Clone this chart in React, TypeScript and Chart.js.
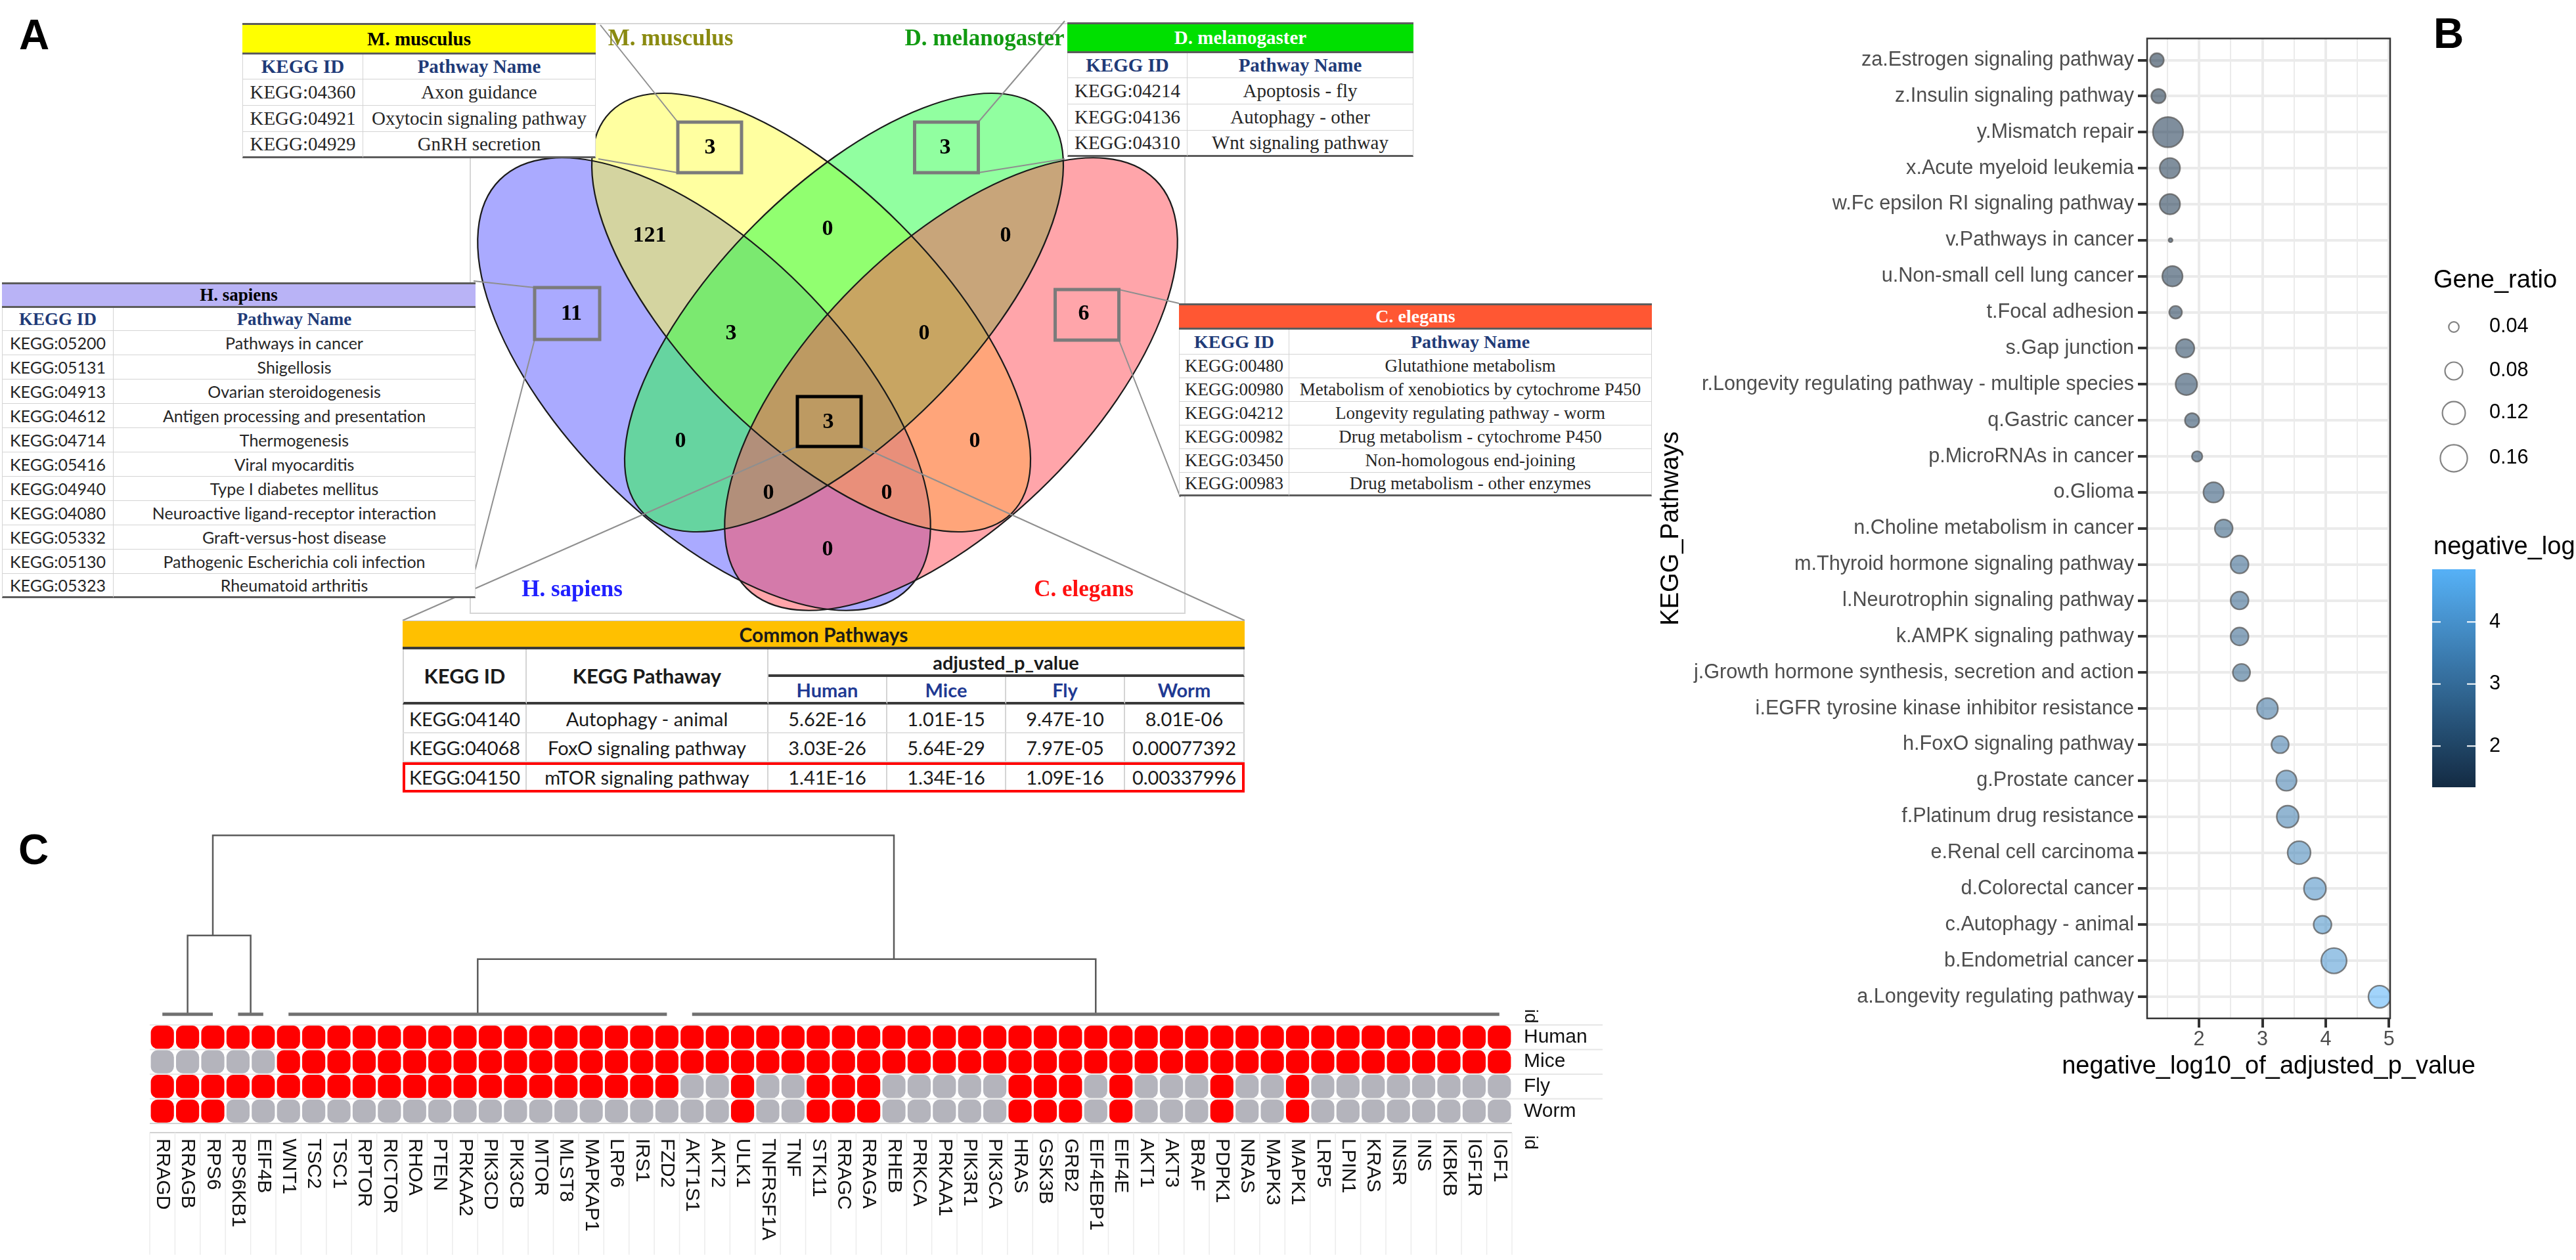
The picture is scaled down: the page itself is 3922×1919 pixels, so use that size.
import React, { useEffect, useRef } from 'react';
import { Chart, registerables } from 'chart.js';

Chart.register(...registerables);

const SERIF = '"Liberation Serif", "Times New Roman", serif';
const SANS = '"Liberation Sans", Arial, Helvetica, sans-serif';
const CALI = 'Lato, "Open Sans", sans-serif';

// ---------------- Panel B data ----------------
const PATHWAYS = [
  'za.Estrogen signaling pathway',
  'z.Insulin signaling pathway',
  'y.Mismatch repair',
  'x.Acute myeloid leukemia',
  'w.Fc epsilon RI signaling pathway',
  'v.Pathways in cancer',
  'u.Non-small cell lung cancer',
  't.Focal adhesion',
  's.Gap junction',
  'r.Longevity regulating pathway - multiple species',
  'q.Gastric cancer',
  'p.MicroRNAs in cancer',
  'o.Glioma',
  'n.Choline metabolism in cancer',
  'm.Thyroid hormone signaling pathway',
  'l.Neurotrophin signaling pathway',
  'k.AMPK signaling pathway',
  'j.Growth hormone synthesis, secretion and action',
  'i.EGFR tyrosine kinase inhibitor resistance',
  'h.FoxO signaling pathway',
  'g.Prostate cancer',
  'f.Platinum drug resistance',
  'e.Renal cell carcinoma',
  'd.Colorectal cancer',
  'c.Autophagy - animal',
  'b.Endometrial cancer',
  'a.Longevity regulating pathway',
];
const NEG_LOG10_P = [1.335, 1.36, 1.51, 1.54, 1.54, 1.55, 1.58, 1.63, 1.78, 1.8, 1.89, 1.97, 2.23, 2.39, 2.64, 2.64, 2.64, 2.67, 3.08, 3.28, 3.38, 3.4, 3.58, 3.83, 3.95, 4.13, 4.85];
const GENE_RATIO = [0.056, 0.059, 0.195, 0.099, 0.099, 0.023, 0.099, 0.051, 0.085, 0.109, 0.059, 0.041, 0.099, 0.081, 0.081, 0.081, 0.081, 0.077, 0.104, 0.077, 0.099, 0.112, 0.121, 0.113, 0.081, 0.144, 0.115];
const X_BREAKS = [1.5, 2, 2.5, 3, 3.5, 4, 4.5, 5];
const SIZE_BREAKS = [0.04, 0.08, 0.12, 0.16];
const COLOUR_BREAKS = [2, 3, 4];

// ---------------- Panel C data ----------------
const GENES = [
  'RRAGD', 'RRAGB', 'RPS6', 'RPS6KB1', 'EIF4B', 'WNT1', 'TSC2', 'TSC1', 'RPTOR', 'RICTOR',
  'RHOA', 'PTEN', 'PRKAA2', 'PIK3CD', 'PIK3CB', 'MTOR', 'MLST8', 'MAPKAP1', 'LRP6', 'IRS1',
  'FZD2', 'AKT1S1', 'AKT2', 'ULK1', 'TNFRSF1A', 'TNF', 'STK11', 'RRAGC', 'RRAGA', 'RHEB',
  'PRKCA', 'PRKAA1', 'PIK3R1', 'PIK3CA', 'HRAS', 'GSK3B', 'GRB2', 'EIF4EBP1', 'EIF4E', 'AKT1',
  'AKT3', 'BRAF', 'PDPK1', 'NRAS', 'MAPK3', 'MAPK1', 'LRP5', 'LPIN1', 'KRAS', 'INSR',
  'INS', 'IKBKB', 'IGF1R', 'IGF1',
];
const SPECIES = ['Human', 'Mice', 'Fly', 'Worm'];
const HUMAN = [1, 1, 1, 1, 1, 1, 1, 1, 1, 1, 1, 1, 1, 1, 1, 1, 1, 1, 1, 1, 1, 1, 1, 1, 1, 1, 1, 1, 1, 1, 1, 1, 1, 1, 1, 1, 1, 1, 1, 1, 1, 1, 1, 1, 1, 1, 1, 1, 1, 1, 1, 1, 1, 1];
const MICE = [0, 0, 0, 0, 0, 1, 1, 1, 1, 1, 1, 1, 1, 1, 1, 1, 1, 1, 1, 1, 1, 1, 1, 1, 1, 1, 1, 1, 1, 1, 1, 1, 1, 1, 1, 1, 1, 1, 1, 1, 1, 1, 1, 1, 1, 1, 1, 1, 1, 1, 1, 1, 1, 1];
const FLY = [1, 1, 1, 1, 1, 1, 1, 1, 1, 1, 1, 1, 1, 1, 1, 1, 1, 1, 1, 1, 1, 0, 0, 1, 0, 0, 1, 1, 1, 0, 0, 0, 0, 0, 1, 1, 1, 0, 1, 0, 0, 0, 1, 0, 0, 1, 0, 0, 0, 0, 0, 0, 0, 0];
const WORM = [1, 1, 1, 0, 0, 0, 0, 0, 0, 0, 0, 0, 0, 0, 0, 0, 0, 0, 0, 0, 0, 0, 0, 1, 0, 0, 1, 1, 1, 0, 0, 0, 0, 0, 1, 1, 1, 0, 1, 0, 0, 0, 1, 0, 0, 1, 0, 0, 0, 0, 0, 0, 0, 0];
const PRESENCE = [HUMAN, MICE, FLY, WORM];
// dendrogram (x in gene-index units, height in row units)
const LEAF_GROUPS = [[0, 2], [3, 4], [5, 20], [21, 53]];
const LEAF_HEIGHT = 4.43;
// [left x, right x, merge height, left child height, right child height]
const LINKS = [
  [1, 3.5, 7.63, 4.43, 4.43],
  [12.5, 37, 6.67, 4.43, 4.43],
  [2.0, 29, 11.69, 7.63, 6.67],
];

// ---------------- Panel A data ----------------
const VENN_SETS = ['H. sapiens', 'M. musculus', 'D. melanogaster', 'C. elegans'];
const VENN_REGIONS = ['M', 'D', 'H', 'C', 'HM', 'MD', 'DC', 'HMD', 'MDC', 'HD', 'MC', 'HMDC', 'HDC', 'HMC', 'HC'];
const VENN_COUNTS = [3, 3, 11, 6, 121, 0, 0, 3, 0, 0, 0, 3, 0, 0, 0];

const MUS_ROWS = [
  ['KEGG:04360', 'Axon guidance'],
  ['KEGG:04921', 'Oxytocin signaling pathway'],
  ['KEGG:04929', 'GnRH secretion'],
];
const DME_ROWS = [
  ['KEGG:04214', 'Apoptosis - fly'],
  ['KEGG:04136', 'Autophagy - other'],
  ['KEGG:04310', 'Wnt signaling pathway'],
];
const HSA_ROWS = [
  ['KEGG:05200', 'Pathways in cancer'],
  ['KEGG:05131', 'Shigellosis'],
  ['KEGG:04913', 'Ovarian steroidogenesis'],
  ['KEGG:04612', 'Antigen processing and presentation'],
  ['KEGG:04714', 'Thermogenesis'],
  ['KEGG:05416', 'Viral myocarditis'],
  ['KEGG:04940', 'Type I diabetes mellitus'],
  ['KEGG:04080', 'Neuroactive ligand-receptor interaction'],
  ['KEGG:05332', 'Graft-versus-host disease'],
  ['KEGG:05130', 'Pathogenic Escherichia coli infection'],
  ['KEGG:05323', 'Rheumatoid arthritis'],
];
const CEL_ROWS = [
  ['KEGG:00480', 'Glutathione metabolism'],
  ['KEGG:00980', 'Metabolism of xenobiotics by cytochrome P450'],
  ['KEGG:04212', 'Longevity regulating pathway - worm'],
  ['KEGG:00982', 'Drug metabolism - cytochrome P450'],
  ['KEGG:03450', 'Non-homologous end-joining'],
  ['KEGG:00983', 'Drug metabolism - other enzymes'],
];
const COMMON_SPECIES = ['Human', 'Mice', 'Fly', 'Worm'];
const COMMON_ROWS = [
  ['KEGG:04140', 'Autophagy - animal', '5.62E-16', '1.01E-15', '9.47E-10', '8.01E-06'],
  ['KEGG:04068', 'FoxO signaling pathway', '3.03E-26', '5.64E-29', '7.97E-05', '0.00077392'],
  ['KEGG:04150', 'mTOR signaling pathway', '1.41E-16', '1.34E-16', '1.09E-16', '0.00337996'],
];

// ---------------- layout (Venn drawing space: 10 px per unit) ----------------
const VENN_LAYOUT = {
  frame: [11.6, 3.6, 120.4, 93.4],
  ellipses: [
    { cx: 47.2, cy: 58.5, a: 44.0, b: 21.0, angle: 45, fill: 'rgba(85,85,255,0.5)' },
    { cx: 63.5, cy: 47.6, a: 43.2, b: 19.1, angle: 45, fill: 'rgba(255,255,65,0.5)' },
    { cx: 68.5, cy: 47.6, a: 43.2, b: 19.1, angle: -45, fill: 'rgba(35,255,65,0.5)' },
    { cx: 84.8, cy: 58.5, a: 44.0, b: 21.0, angle: -45, fill: 'rgba(255,75,85,0.5)' },
  ],
  regionPos: [
    [48.1, 22.5], [83.9, 22.5], [27.0, 47.8], [105.0, 47.8], [38.9, 35.9], [66.0, 34.9], [93.1, 35.9],
    [51.3, 50.8], [80.7, 50.8], [43.6, 67.2], [88.4, 67.2], [66.1, 64.3], [57.0, 75.1], [75.0, 75.1], [66.0, 83.7],
  ],
  boxes: [
    [48.05, 22.45, 9.7, 7.7, '#7b7b7b'],
    [84.1, 22.45, 9.7, 7.7, '#7b7b7b'],
    [26.35, 47.75, 9.9, 7.9, '#7b7b7b'],
    [105.5, 47.95, 9.7, 7.7, '#7b7b7b'],
    [66.25, 64.2, 9.7, 7.6, '#000000'],
  ],
  setLabels: [[27.1, 89.9, '#2020ff'], [42.1, 6.0, '#8a8a10'], [89.9, 6.0, '#129a12'], [105.0, 89.9, '#ff1010']],
  connectors: [
    [43.2, 18.6, 31.4, 3.8], [43.2, 26.3, 31.1, 24.2],
    [88.95, 18.6, 102.1, 3.2], [88.95, 26.3, 102.1, 24.2],
    [21.4, 43.8, 12.1, 42.8], [21.4, 51.7, 11.4, 90.4],
    [110.35, 44.1, 119.5, 46.2], [110.35, 51.8, 119.7, 75.7],
    [61.4, 68.0, 1.3, 94.5], [71.1, 68.0, 129.5, 94.5],
  ],
};

// ---------------- helpers ----------------
const NEG_MIN = Math.min(...NEG_LOG10_P);
const NEG_MAX = Math.max(...NEG_LOG10_P);
const LOW_RGB = [19, 43, 67];
const HIGH_RGB = [86, 177, 247];

function colourFor(v: number, alpha: number) {
  const t = Math.min(1, Math.max(0, (v - NEG_MIN) / (NEG_MAX - NEG_MIN)));
  const c = LOW_RGB.map((l, k) => Math.round(l + (HIGH_RGB[k] - l) * t));
  return `rgba(${c[0]},${c[1]},${c[2]},${alpha})`;
}
function sizeFor(g: number) {
  return Math.sqrt(Math.max(4, 60.8 + (g - 0.04) * 3025));
}

// ---------------- Venn chart ----------------
const vennPlugin = {
  id: 'vennDraw',
  beforeDatasetsDraw(chart: any) {
    const { ctx, scales } = chart;
    const X = (v: number) => scales.x.getPixelForValue(v);
    const Y = (v: number) => scales.y.getPixelForValue(v);
    const sx = Math.abs(X(1) - X(0));
    const sy = Math.abs(Y(1) - Y(0));
    ctx.save();
    const f = VENN_LAYOUT.frame;
    ctx.strokeStyle = '#d6d6d6';
    ctx.lineWidth = 2;
    ctx.strokeRect(X(f[0]), Y(f[1]), (f[2] - f[0]) * sx, (f[3] - f[1]) * sy);
    VENN_LAYOUT.ellipses.forEach((e) => {
      ctx.beginPath();
      ctx.ellipse(X(e.cx), Y(e.cy), e.a * sx, e.b * sy, (e.angle * Math.PI) / 180, 0, Math.PI * 2);
      ctx.fillStyle = e.fill;
      ctx.fill();
    });
    ctx.strokeStyle = '#1a1a1a';
    ctx.lineWidth = 2.2;
    VENN_LAYOUT.ellipses.forEach((e) => {
      ctx.beginPath();
      ctx.ellipse(X(e.cx), Y(e.cy), e.a * sx, e.b * sy, (e.angle * Math.PI) / 180, 0, Math.PI * 2);
      ctx.stroke();
    });
    ctx.restore();
  },
  afterDatasetsDraw(chart: any) {
    const { ctx, scales } = chart;
    const X = (v: number) => scales.x.getPixelForValue(v);
    const Y = (v: number) => scales.y.getPixelForValue(v);
    const sx = Math.abs(X(1) - X(0));
    const sy = Math.abs(Y(1) - Y(0));
    ctx.save();
    VENN_LAYOUT.boxes.forEach(([cx, cy, w, h, col]: any) => {
      ctx.strokeStyle = col;
      ctx.lineWidth = 5;
      ctx.strokeRect(X(cx - w / 2), Y(cy - h / 2), w * sx, h * sy);
    });
    ctx.fillStyle = '#000';
    ctx.textAlign = 'center';
    ctx.textBaseline = 'middle';
    ctx.font = `bold 34px ${SERIF}`;
    VENN_COUNTS.forEach((n, i) => {
      const [px, py] = VENN_LAYOUT.regionPos[i];
      ctx.fillText(String(n), X(px), Y(py));
    });
    ctx.font = `bold 35px ${SERIF}`;
    VENN_SETS.forEach((s, i) => {
      const [px, py, col] = VENN_LAYOUT.setLabels[i] as any;
      ctx.fillStyle = col;
      ctx.fillText(s, X(px), Y(py));
    });
    ctx.restore();
  },
};

function vennConfig(): any {
  return {
    type: 'scatter',
    data: {
      datasets: VENN_LAYOUT.connectors.map((c) => ({
        data: [{ x: c[0], y: c[1] }, { x: c[2], y: c[3] }],
        showLine: true,
        borderColor: '#8f8f8f',
        borderWidth: 2,
        pointRadius: 0,
        clip: false,
      })),
    },
    options: {
      responsive: false,
      animation: false,
      devicePixelRatio: 1,
      events: [],
      layout: { padding: 0 },
      plugins: { legend: { display: false }, tooltip: { enabled: false } },
      scales: {
        x: { type: 'linear', min: 0, max: 135, display: false },
        y: { type: 'linear', min: 0, max: 96, reverse: true, display: false },
      },
    },
    plugins: [vennPlugin],
  };
}

// ---------------- Bubble chart (panel B) ----------------
const LEGEND_KEY_Y = [498, 565, 629, 698];
const bubblePlugin = {
  id: 'bubbleDecor',
  afterDraw(chart: any) {
    const { ctx, chartArea: a } = chart;
    ctx.save();
    ctx.strokeStyle = '#333333';
    ctx.lineWidth = 2.5;
    ctx.strokeRect(a.left, a.top, a.right - a.left, a.bottom - a.top);

    // x axis title (wider than the panel, so drawn without width limit)
    ctx.fillStyle = '#000';
    ctx.textAlign = 'center';
    ctx.textBaseline = 'middle';
    ctx.font = `38px ${SANS}`;
    ctx.fillText('negative_log10_of_adjusted_p_value', (a.left + a.right) / 2, 1625);

    // size legend
    ctx.textAlign = 'left';
    ctx.fillText('Gene_ratio', 1205, 428);
    SIZE_BREAKS.forEach((b, i) => {
      const cy = LEGEND_KEY_Y[i];
      ctx.beginPath();
      ctx.arc(1236, cy, sizeFor(b), 0, Math.PI * 2);
      ctx.strokeStyle = 'rgba(90,90,90,0.75)';
      ctx.lineWidth = 2.2;
      ctx.stroke();
      ctx.font = `30.6px ${SANS}`;
      ctx.fillStyle = '#000';
      ctx.fillText(b.toFixed(2), 1290, cy);
    });

    // colour bar
    ctx.font = `38px ${SANS}`;
    ctx.fillText('negative_log', 1205, 834);
    const top = 867;
    const bot = 1199;
    const g = ctx.createLinearGradient(0, top, 0, bot);
    for (let k = 0; k <= 10; k++) {
      const v = NEG_MAX - ((NEG_MAX - NEG_MIN) * k) / 10;
      g.addColorStop(k / 10, colourFor(v, 1));
    }
    ctx.fillStyle = g;
    ctx.fillRect(1203, top, 66, bot - top);
    COLOUR_BREAKS.forEach((v) => {
      const y = bot - ((v - NEG_MIN) / (NEG_MAX - NEG_MIN)) * (bot - top);
      ctx.strokeStyle = '#ffffff';
      ctx.lineWidth = 2;
      ctx.beginPath();
      ctx.moveTo(1203, y);
      ctx.lineTo(1216, y);
      ctx.moveTo(1256, y);
      ctx.lineTo(1269, y);
      ctx.stroke();
      ctx.fillStyle = '#000';
      ctx.font = `30.6px ${SANS}`;
      ctx.fillText(String(v), 1290, y);
    });
    ctx.restore();
  },
};

function bubbleConfig(): any {
  return {
    type: 'bubble',
    data: {
      datasets: [
        {
          data: NEG_LOG10_P.map((x, i) => ({ x, y: i, r: sizeFor(GENE_RATIO[i]) })),
          backgroundColor: NEG_LOG10_P.map((v) => colourFor(v, 0.55)),
          borderColor: 'rgba(90,90,90,0.75)',
          borderWidth: 2.4,
        },
      ],
    },
    options: {
      responsive: false,
      animation: false,
      devicePixelRatio: 1,
      events: [],
      layout: { padding: { left: 0, right: 283, top: 58.6, bottom: 0 } },
      plugins: { legend: { display: false }, tooltip: { enabled: false } },
      scales: {
        x: {
          type: 'linear',
          min: 1.18,
          max: 5.017,
          afterBuildTicks: (s: any) => {
            s.ticks = X_BREAKS.map((value) => ({ value }));
          },
          afterFit: (s: any) => {
            s.height = 149;
          },
          ticks: {
            autoSkip: false,
            maxRotation: 0,
            padding: 0,
            color: '#4d4d4d',
            font: { family: SANS, size: 30.6 },
            callback: (v: number) => (Number.isInteger(v) ? String(v) : ''),
          },
          grid: {
            color: '#ebebeb',
            lineWidth: (c: any) => (c.tick && Number.isInteger(c.tick.value) ? 4 : 2),
            tickLength: 14,
            tickWidth: 4,
            tickColor: (c: any) => (c.tick && Number.isInteger(c.tick.value) ? '#333333' : 'rgba(0,0,0,0)'),
          },
          border: { display: false },
          title: { display: false },
        },
        y: {
          type: 'linear',
          reverse: true,
          min: -0.6,
          max: 26.6,
          afterBuildTicks: (s: any) => {
            s.ticks = PATHWAYS.map((_, i) => ({ value: i }));
          },
          afterFit: (s: any) => {
            s.width = 769;
          },
          ticks: {
            autoSkip: false,
            padding: 6,
            color: '#4d4d4d',
            font: { family: SANS, size: 30.6 },
            callback: (v: number) => PATHWAYS[v],
          },
          grid: { color: '#ebebeb', lineWidth: 4, tickLength: 14, tickWidth: 4, tickColor: '#333333' },
          border: { display: false },
          title: {
            display: true,
            text: 'KEGG_Pathways',
            color: '#000',
            font: { family: SANS, size: 38 },
            padding: { top: 22, bottom: 0 },
          },
        },
      },
    },
    plugins: [bubblePlugin],
  };
}

// ---------------- Heatmap chart (panel C) ----------------
const heatPlugin = {
  id: 'heatDecor',
  beforeDatasetsDraw(chart: any) {
    const { ctx, scales } = chart;
    const X = (v: number) => scales.x.getPixelForValue(v);
    const Y = (v: number) => scales.y.getPixelForValue(v);
    ctx.save();
    ctx.strokeStyle = '#e6e6e6';
    ctx.lineWidth = 2;
    [1, 2, 3, 4].forEach((r) => {
      ctx.beginPath();
      ctx.moveTo(X(-0.5), Y(r));
      ctx.lineTo(2290, Y(r));
      ctx.stroke();
    });
    ctx.strokeStyle = '#d2d2d2';
    ctx.beginPath();
    ctx.moveTo(X(-0.5), Y(0));
    ctx.lineTo(X(GENES.length - 0.5), Y(0));
    ctx.moveTo(X(-0.5), Y(0) + 14);
    ctx.lineTo(X(GENES.length - 0.5), Y(0) + 14);
    ctx.stroke();
    ctx.strokeStyle = '#ececec';
    ctx.lineWidth = 1.5;
    for (let g = 0; g <= GENES.length; g++) {
      ctx.beginPath();
      ctx.moveTo(X(g - 0.5), Y(0) + 14);
      ctx.lineTo(X(g - 0.5), Y(0) + 200);
      ctx.stroke();
    }
    ctx.restore();
  },
  afterDraw(chart: any) {
    const { ctx, scales } = chart;
    const X = (v: number) => scales.x.getPixelForValue(v);
    const Y = (v: number) => scales.y.getPixelForValue(v);
    ctx.save();
    ctx.fillStyle = '#111';
    ctx.font = `30px ${SANS}`;
    ctx.textAlign = 'left';
    ctx.textBaseline = 'middle';
    GENES.forEach((g, i) => {
      ctx.save();
      ctx.translate(X(i), Y(0) + 23);
      ctx.rotate(Math.PI / 2);
      ctx.fillText(g, 0, 0);
      ctx.restore();
    });
    SPECIES.forEach((s, r) => {
      ctx.fillText(s, 2170, Y(3.5 - r));
    });
    ctx.font = `28px ${SANS}`;
    [Y(LEAF_HEIGHT) - 8, Y(0) + 18].forEach((yy) => {
      ctx.save();
      ctx.translate(2180, yy);
      ctx.rotate(Math.PI / 2);
      ctx.fillText('id', 0, 0);
      ctx.restore();
    });
    ctx.restore();
  },
};

function heatConfig(): any {
  const cells: any[] = [];
  PRESENCE.forEach((row, s) => row.forEach((v, g) => cells.push({ x: g, y: 3.5 - s, v })));
  const datasets: any[] = [
    {
      data: cells,
      pointStyle: 'rectRounded',
      pointRadius: 20.5,
      backgroundColor: cells.map((c) => (c.v ? '#ff0000' : '#b4b4bc')),
      borderWidth: 0,
    },
  ];
  LEAF_GROUPS.forEach(([a, b]) =>
    datasets.push({
      data: [{ x: a, y: LEAF_HEIGHT }, { x: b, y: LEAF_HEIGHT }],
      showLine: true,
      borderColor: '#707070',
      borderWidth: 5,
      pointRadius: 0,
    })
  );
  LINKS.forEach(([l, r, h, hl, hr]) =>
    datasets.push({
      data: [{ x: l, y: hl }, { x: l, y: h }, { x: r, y: h }, { x: r, y: hr }],
      showLine: true,
      borderColor: '#5a5a5a',
      borderWidth: 2.5,
      pointRadius: 0,
    })
  );
  return {
    type: 'scatter',
    data: { datasets },
    options: {
      responsive: false,
      animation: false,
      devicePixelRatio: 1,
      events: [],
      layout: { padding: { left: 78, right: 148, top: 10, bottom: 208 } },
      plugins: { legend: { display: false }, tooltip: { enabled: false } },
      scales: {
        x: { type: 'linear', min: -0.5, max: GENES.length - 0.5, display: false },
        y: { type: 'linear', min: 0, max: 12.005, display: false },
      },
    },
    plugins: [heatPlugin],
  };
}

// ---------------- HTML table helpers ----------------
function Cell(props: { x: number; y: number; w: number; h: number; children?: any; style?: any }) {
  const { x, y, w, h, children, style } = props;
  return (
    <div
      style={{
        position: 'absolute',
        left: x,
        top: y,
        width: w,
        height: h,
        boxSizing: 'border-box',
        display: 'flex',
        alignItems: 'center',
        justifyContent: 'center',
        whiteSpace: 'nowrap',
        background: '#fff',
        lineHeight: 1,
        ...style,
      }}
    >
      {children}
    </div>
  );
}

function SpeciesTable(p: {
  x: number; y: number; w: number; c1: number; title: string; bg: string; titleColor: string;
  rows: string[][]; hH: number; cH: number; rH: number; dataFont: string; dataSize: number; headSize: number;
}) {
  const dark = '3px solid #5c5c5c';
  const light = '1px solid #d4d4d4';
  const out: any[] = [];
  out.push(
    <Cell key="t" x={p.x} y={p.y} w={p.w} h={p.hH}
      style={{ background: p.bg, borderTop: dark, borderBottom: dark, fontFamily: SERIF, fontWeight: 700, fontSize: p.headSize, color: p.titleColor }}>
      {p.title}
    </Cell>
  );
  let yy = p.y + p.hH;
  const hs = { fontFamily: SERIF, fontWeight: 700, fontSize: p.headSize, color: '#1f3b78', borderBottom: light };
  out.push(<Cell key="h1" x={p.x} y={yy} w={p.c1} h={p.cH} style={{ ...hs, borderLeft: light, borderRight: light }}>KEGG ID</Cell>);
  out.push(<Cell key="h2" x={p.x + p.c1} y={yy} w={p.w - p.c1} h={p.cH} style={{ ...hs, borderRight: light }}>Pathway Name</Cell>);
  yy += p.cH;
  p.rows.forEach((r, i) => {
    const last = i === p.rows.length - 1;
    const ds = { fontFamily: p.dataFont, fontSize: p.dataSize, color: '#262626', borderBottom: last ? dark : light };
    out.push(<Cell key={'a' + i} x={p.x} y={yy} w={p.c1} h={p.rH} style={{ ...ds, borderLeft: light, borderRight: light }}>{r[0]}</Cell>);
    out.push(<Cell key={'b' + i} x={p.x + p.c1} y={yy} w={p.w - p.c1} h={p.rH} style={{ ...ds, borderRight: light }}>{r[1]}</Cell>);
    yy += p.rH;
  });
  return <div style={{ position: 'absolute', left: 0, top: 0, zIndex: 3 }}>{out}</div>;
}

function CommonTable() {
  const xs = [613, 802, 1170, 1351, 1532, 1713, 1895];
  const y0 = 945;
  const thick = '4px solid #3a3a3a';
  const light = '2px solid #d4d4d4';
  const base = { fontFamily: CALI, fontSize: 29, color: '#1a1a1a' };
  const out: any[] = [];
  out.push(
    <Cell key="t" x={xs[0]} y={y0} w={xs[6] - xs[0]} h={44}
      style={{ ...base, background: '#ffc000', fontWeight: 700, fontSize: 30, borderTop: '1px solid #c8c8c8', borderBottom: thick }}>
      Common Pathways
    </Cell>
  );
  out.push(<Cell key="k" x={xs[0]} y={y0 + 44} w={xs[1] - xs[0]} h={84} style={{ ...base, fontWeight: 700, fontSize: 31, borderLeft: light, borderRight: light, borderBottom: thick }}>KEGG ID</Cell>);
  out.push(<Cell key="p" x={xs[1]} y={y0 + 44} w={xs[2] - xs[1]} h={84} style={{ ...base, fontWeight: 700, fontSize: 31, borderRight: light, borderBottom: thick }}>KEGG Pathaway</Cell>);
  out.push(<Cell key="a" x={xs[2]} y={y0 + 44} w={xs[6] - xs[2]} h={42} style={{ ...base, fontWeight: 700, borderRight: light, borderBottom: thick }}>adjusted_p_value</Cell>);
  COMMON_SPECIES.forEach((s, i) =>
    out.push(
      <Cell key={'s' + i} x={xs[2 + i]} y={y0 + 86} w={xs[3 + i] - xs[2 + i]} h={42}
        style={{ ...base, fontWeight: 700, color: '#1f3a93', borderRight: light, borderBottom: thick }}>
        {s}
      </Cell>
    )
  );
  const rowH = [44, 44, 46];
  let yy = y0 + 128;
  COMMON_ROWS.forEach((r, ri) => {
    r.forEach((txt, ci) =>
      out.push(
        <Cell key={`r${ri}c${ci}`} x={xs[ci]} y={yy} w={xs[ci + 1] - xs[ci]} h={rowH[ri]}
          style={{ ...base, borderRight: light, borderLeft: ci === 0 ? light : undefined, borderBottom: '2px solid #e2e2e2' }}>
          {txt}
        </Cell>
      )
    );
    yy += rowH[ri];
  });
  out.push(
    <div key="red" style={{ position: 'absolute', left: xs[0], top: y0 + 128 + 88, width: xs[6] - xs[0], height: 46, border: '4px solid #ff0000', boxSizing: 'border-box' }} />
  );
  return <div style={{ position: 'absolute', left: 0, top: 0, zIndex: 3 }}>{out}</div>;
}

const panelLetter = { position: 'absolute' as const, fontFamily: SANS, fontWeight: 700, fontSize: 64, lineHeight: 1, color: '#000', zIndex: 4 };

export default function App() {
  const vennRef = useRef<HTMLCanvasElement>(null);
  const bubbleRef = useRef<HTMLCanvasElement>(null);
  const heatRef = useRef<HTMLCanvasElement>(null);

  useEffect(() => {
    const charts = [
      new Chart(vennRef.current as HTMLCanvasElement, vennConfig()),
      new Chart(bubbleRef.current as HTMLCanvasElement, bubbleConfig()),
      new Chart(heatRef.current as HTMLCanvasElement, heatConfig()),
    ];
    return () => charts.forEach((c) => c.destroy());
  }, []);

  return (
    <div style={{ position: 'absolute', left: 0, top: 0, width: 3922, height: 1919, background: '#fff', overflow: 'hidden' }}>
      <canvas ref={vennRef} width={1350} height={960} style={{ position: 'absolute', left: 600, top: 0, width: 1350, height: 960, zIndex: 1 }} />
      <canvas ref={bubbleRef} width={1422} height={1700} style={{ position: 'absolute', left: 2500, top: 0, width: 1422, height: 1700, zIndex: 1 }} />
      <canvas ref={heatRef} width={2300} height={679} style={{ position: 'absolute', left: 150, top: 1240, width: 2300, height: 679, zIndex: 1 }} />

      <SpeciesTable x={369} y={35} w={538} c1={184} title="M. musculus" bg="#ffff00" titleColor="#000"
        rows={MUS_ROWS} hH={48} cH={38} rH={40} dataFont={SERIF} dataSize={29} headSize={29} />
      <SpeciesTable x={1625} y={34} w={527} c1={183} title="D. melanogaster" bg="#00e000" titleColor="#fff"
        rows={DME_ROWS} hH={47} cH={38} rH={40} dataFont={SERIF} dataSize={29} headSize={29} />
      <SpeciesTable x={3} y={430} w={721} c1={170} title="H. sapiens" bg="#b9b3f6" titleColor="#000"
        rows={HSA_ROWS} hH={39} cH={35} rH={37} dataFont={CALI} dataSize={25} headSize={27} />
      <SpeciesTable x={1795} y={462} w={720} c1={168} title="C. elegans" bg="#ff5733" titleColor="#fff"
        rows={CEL_ROWS} hH={40} cH={38} rH={36} dataFont={SERIF} dataSize={27} headSize={28} />
      <CommonTable />

      <div style={{ ...panelLetter, left: 29, top: 21 }}>A</div>
      <div style={{ ...panelLetter, left: 3705, top: 19 }}>B</div>
      <div style={{ ...panelLetter, left: 28, top: 1262 }}>C</div>
    </div>
  );
}
